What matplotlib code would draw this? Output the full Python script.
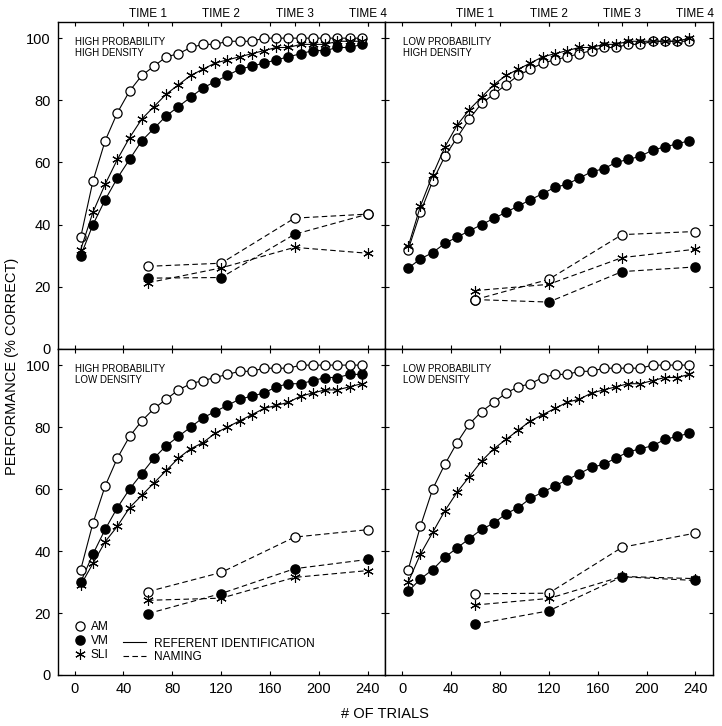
import matplotlib
matplotlib.use("Agg")
import matplotlib.pyplot as plt
from matplotlib.lines import Line2D
import numpy as np

plt.rcParams['font.family'] = ['Liberation Sans', 'DejaVu Sans']

# ---------------- data ----------------
trials_ref = list(range(5, 240, 10))          # referent identification blocks
trials_nam = [60, 120, 180, 240]              # naming probes
time_labels = ["TIME 1", "TIME 2", "TIME 3", "TIME 4"]
x_ticks = [0, 40, 80, 120, 160, 200, 240]
y_ticks = [0, 20, 40, 60, 80, 100]

panel_titles = ["HIGH PROBABILITY\nHIGH DENSITY", "LOW PROBABILITY\nHIGH DENSITY",
                "HIGH PROBABILITY\nLOW DENSITY", "LOW PROBABILITY\nLOW DENSITY"]

# High probability / high density
hphd_am_ref = [36, 54, 67, 76, 83, 88, 91, 94, 95, 97, 98, 98, 99, 99, 99, 100, 100, 100, 100, 100, 100, 100, 100, 100]
hphd_vm_ref = [30, 40, 48, 55, 61, 67, 71, 75, 78, 81, 84, 86, 88, 90, 91, 92, 93, 94, 95, 96, 96, 97, 97, 98]
hphd_sli_ref = [32, 44, 53, 61, 68, 74, 78, 82, 85, 88, 90, 92, 93, 94, 95, 96, 97, 97, 98, 98, 98, 99, 99, 99]
hphd_am_nam = [26.6, 27.6, 42.1, 43.4]
hphd_vm_nam = [22.8, 23.0, 36.9, 43.4]
hphd_sli_nam = [21.3, 26.1, 32.7, 30.8]

# Low probability / high density
lphd_am_ref = [32, 44, 54, 62, 68, 74, 79, 82, 85, 88, 90, 92, 93, 94, 95, 96, 97, 97, 98, 98, 99, 99, 99, 99]
lphd_vm_ref = [26, 29, 31, 34, 36, 38, 40, 42, 44, 46, 48, 50, 52, 53, 55, 57, 58, 60, 61, 62, 64, 65, 66, 67]
lphd_sli_ref = [33, 46, 56, 65, 72, 77, 81, 85, 88, 90, 92, 94, 95, 96, 97, 97, 98, 98, 99, 99, 99, 99, 99, 100]
lphd_am_nam = [15.9, 22.4, 36.8, 37.8]
lphd_vm_nam = [15.9, 15.1, 24.9, 26.4]
lphd_sli_nam = [18.8, 20.8, 29.4, 32.1]

# High probability / low density
hpld_am_ref = [34, 49, 61, 70, 77, 82, 86, 89, 92, 94, 95, 96, 97, 98, 98, 99, 99, 99, 100, 100, 100, 100, 100, 100]
hpld_vm_ref = [30, 39, 47, 54, 60, 65, 70, 74, 77, 80, 83, 85, 87, 89, 90, 91, 93, 94, 94, 95, 96, 96, 97, 97]
hpld_sli_ref = [29, 36, 43, 48, 54, 58, 62, 66, 70, 73, 75, 78, 80, 82, 84, 86, 87, 88, 90, 91, 92, 92, 93, 94]
hpld_am_nam = [26.9, 33.1, 44.5, 46.9]
hpld_vm_nam = [19.8, 26.3, 34.3, 37.3]
hpld_sli_nam = [24.1, 24.8, 31.5, 33.7]

# Low probability / low density
lpld_am_ref = [34, 48, 60, 68, 75, 81, 85, 88, 91, 93, 94, 96, 97, 97, 98, 98, 99, 99, 99, 99, 100, 100, 100, 100]
lpld_vm_ref = [27, 31, 34, 38, 41, 44, 47, 49, 52, 54, 57, 59, 61, 63, 65, 67, 68, 70, 72, 73, 74, 76, 77, 78]
lpld_sli_ref = [30, 39, 46, 53, 59, 64, 69, 73, 76, 79, 82, 84, 86, 88, 89, 91, 92, 93, 94, 94, 95, 96, 96, 97]
lpld_am_nam = [26.2, 26.4, 41.2, 45.8]
lpld_vm_nam = [16.4, 20.7, 31.7, 30.5]
lpld_sli_nam = [22.6, 24.7, 31.8, 31.1]

panels = [
    (hphd_am_ref, hphd_vm_ref, hphd_sli_ref, hphd_am_nam, hphd_vm_nam, hphd_sli_nam),
    (lphd_am_ref, lphd_vm_ref, lphd_sli_ref, lphd_am_nam, lphd_vm_nam, lphd_sli_nam),
    (hpld_am_ref, hpld_vm_ref, hpld_sli_ref, hpld_am_nam, hpld_vm_nam, hpld_sli_nam),
    (lpld_am_ref, lpld_vm_ref, lpld_sli_ref, lpld_am_nam, lpld_vm_nam, lpld_sli_nam),
]

# ---------------- figure ----------------
W, H = 722, 726
fig = plt.figure(figsize=(W / 100, H / 100), dpi=100)

xl, xm, xr = 57.5, 385, 712.5
yt, ym, yb = 22, 349, 675
rects = [
    (xl, yt, xm, ym), (xm, yt, xr, ym),
    (xl, ym, xm, yb), (xm, ym, xr, yb),
]

asterisk = (6, 2, 0)
ms = 6.6
lw = 0.8
tick_fs = 10.5
dash = (0, (5, 3))

for i, (x0, y0, x1, y1) in enumerate(rects):
    ax = fig.add_axes([x0 / W, 1 - y1 / H, (x1 - x0) / W, (y1 - y0) / H])
    am_r, vm_r, sli_r, am_n, vm_n, sli_n = panels[i]
    # naming (dashed)
    ax.plot(trials_nam, vm_n, ls=dash, color='k', lw=lw, marker='o', ms=ms,
            mfc='k', mec='k', zorder=3)
    ax.plot(trials_nam, am_n, ls=dash, color='k', lw=lw, marker='o', ms=ms,
            mfc='white', mec='k', mew=0.9, zorder=4)
    ax.plot(trials_nam, sli_n, ls=dash, color='k', lw=lw, marker=asterisk, ms=ms + 1,
            mfc='k', mec='k', mew=0.8, zorder=5)
    # referent identification (solid)
    ax.plot(trials_ref, vm_r, ls='-', color='k', lw=lw, marker='o', ms=ms,
            mfc='k', mec='k', zorder=3)
    ax.plot(trials_ref, am_r, ls='-', color='k', lw=lw, marker='o', ms=ms,
            mfc='white', mec='k', mew=0.9, zorder=4)
    ax.plot(trials_ref, sli_r, ls='-', color='k', lw=lw, marker=asterisk, ms=ms + 1,
            mfc='k', mec='k', mew=0.8, zorder=5)

    ax.set_xlim(-14, 254)
    ax.set_ylim(0, 105.2)
    ax.set_xticks(x_ticks)
    ax.set_yticks(y_ticks)
    ax.tick_params(direction='in', length=3, width=0.8, top=True, right=True,
                   labelsize=tick_fs, pad=5)
    if i in (0, 1):
        ax.tick_params(labelbottom=False)
    if i in (1, 3):
        ax.tick_params(labelleft=False)
    for sp in ax.spines.values():
        sp.set_linewidth(1.0)

    ax.text(0.054, 0.955, panel_titles[i], transform=ax.transAxes, ha='left', va='top',
            fontsize=7.0, linespacing=1.15)

    if i in (0, 1):
        sec = ax.secondary_xaxis('top')
        sec.set_xticks(trials_nam, labels=time_labels)
        sec.tick_params(direction='in', length=3, width=0.8, labelsize=8.5, pad=1.5)
        sec.spines['top'].set_visible(False)

    if i == 2:
        h1 = [Line2D([], [], ls='none', marker='o', ms=ms, mfc='white', mec='k', mew=0.9),
              Line2D([], [], ls='none', marker='o', ms=ms, mfc='k', mec='k'),
              Line2D([], [], ls='none', marker=asterisk, ms=ms + 1, mec='k', mew=0.8)]
        leg1 = ax.legend(h1, ["AM", "VM", "SLI"], loc='upper left',
                         bbox_to_anchor=(0.05, 0.165), frameon=False, fontsize=8.6,
                         handlelength=1.0, handletextpad=0.4, labelspacing=0.15,
                         borderaxespad=0, borderpad=0)
        ax.add_artist(leg1)
        h2 = [Line2D([], [], ls='-', color='k', lw=lw),
              Line2D([], [], ls=dash, color='k', lw=lw)]
        ax.legend(h2, ["REFERENT IDENTIFICATION", "NAMING"], loc='upper left',
                  bbox_to_anchor=(0.2, 0.115), frameon=False, fontsize=8.6,
                  handlelength=1.9, handletextpad=0.7, labelspacing=0.15,
                  borderaxespad=0, borderpad=0)

fig.text(12 / W, 1 - 366 / H, "PERFORMANCE (% CORRECT)", rotation=90,
         ha='center', va='center', fontsize=10.5)
fig.text(385 / W, 1 - 714 / H, "# OF TRIALS", ha='center', va='center', fontsize=10.5)

fig.savefig("out.png", dpi=100)
